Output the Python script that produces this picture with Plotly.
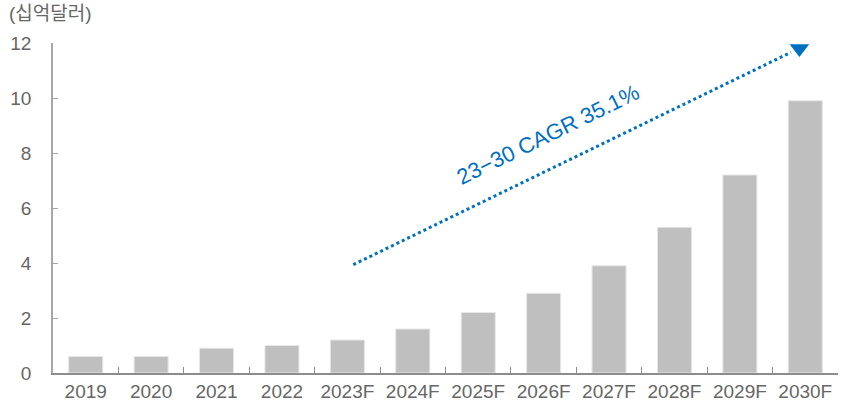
import plotly.graph_objects as go

# Market size by year (USD billions)
years = ["2019", "2020", "2021", "2022", "2023F", "2024F",
         "2025F", "2026F", "2027F", "2028F", "2029F", "2030F"]
values = [0.6, 0.6, 0.9, 1.0, 1.2, 1.6, 2.2, 2.9, 3.9, 5.3, 7.2, 9.9]
y_ticks = [0, 2, 4, 6, 8, 10, 12]

# Trend arrow (category index, value) and its label
arrow_x = [4.09, 10.78]
arrow_y = [3.94, 11.66]
head_xy = (10.91, 11.80)
cagr_label = "23−30 CAGR 35.1%"
unit_label = "(십억달러)"

FONT = "Liberation Sans, Noto Sans CJK KR, sans-serif"
BLUE = "#0070c0"
GRAY_TXT = "#666666"

fig = go.Figure()
fig.add_trace(go.Bar(
    x=years, y=values,
    marker=dict(color="#bfbfbf", line=dict(color="#e6e6e6", width=1)),
    width=0.52,
    hoverinfo="x+y",
))

# dotted trend line on a numeric overlay axis aligned with the categories
fig.add_trace(go.Scatter(
    x=arrow_x, y=arrow_y, xaxis="x2", mode="lines",
    line=dict(color=BLUE, width=3, dash="dot"), hoverinfo="skip",
))
fig.add_trace(go.Scatter(
    x=[head_xy[0]], y=[head_xy[1]], xaxis="x2", mode="markers",
    marker=dict(symbol="triangle-down", size=17, color=BLUE),
    hoverinfo="skip",
))

fig.add_annotation(
    x=7.07, y=8.67, xref="x", yref="y",
    text=cagr_label, showarrow=False, textangle=-26,
    font=dict(family=FONT, size=22, color=BLUE),
)
fig.add_annotation(
    x=0.0, y=1.0, xref="paper", yref="paper",
    xanchor="left", yanchor="top", xshift=-46, yshift=42,
    text=unit_label, showarrow=False,
    font=dict(family=FONT, size=19, color=GRAY_TXT),
)

fig.update_layout(
    width=843, height=407,
    margin=dict(l=53, r=5, t=43, b=32),
    paper_bgcolor="white", plot_bgcolor="white",
    showlegend=False,
    font=dict(family=FONT, size=19, color=GRAY_TXT),
    xaxis=dict(
        type="category", showgrid=False, showline=True,
        linecolor="#8c8c8c", linewidth=1.5,
        ticks="inside", tickson="boundaries", ticklen=6,
        tickcolor="#8c8c8c", tickfont=dict(size=19, color=GRAY_TXT),
        range=[-0.5, 11.5],
    ),
    xaxis2=dict(
        overlaying="x", range=[-0.5, 11.5], visible=False,
    ),
    yaxis=dict(
        range=[0, 12], tickvals=y_ticks, showgrid=False, zeroline=False,
        showline=True, linecolor="#a6a6a6", linewidth=1.5,
        ticks="inside", ticklen=5, tickcolor="#a6a6a6",
        ticklabelstandoff=16,
        tickfont=dict(size=19, color=GRAY_TXT),
    ),
)

fig.write_html("out.html")
